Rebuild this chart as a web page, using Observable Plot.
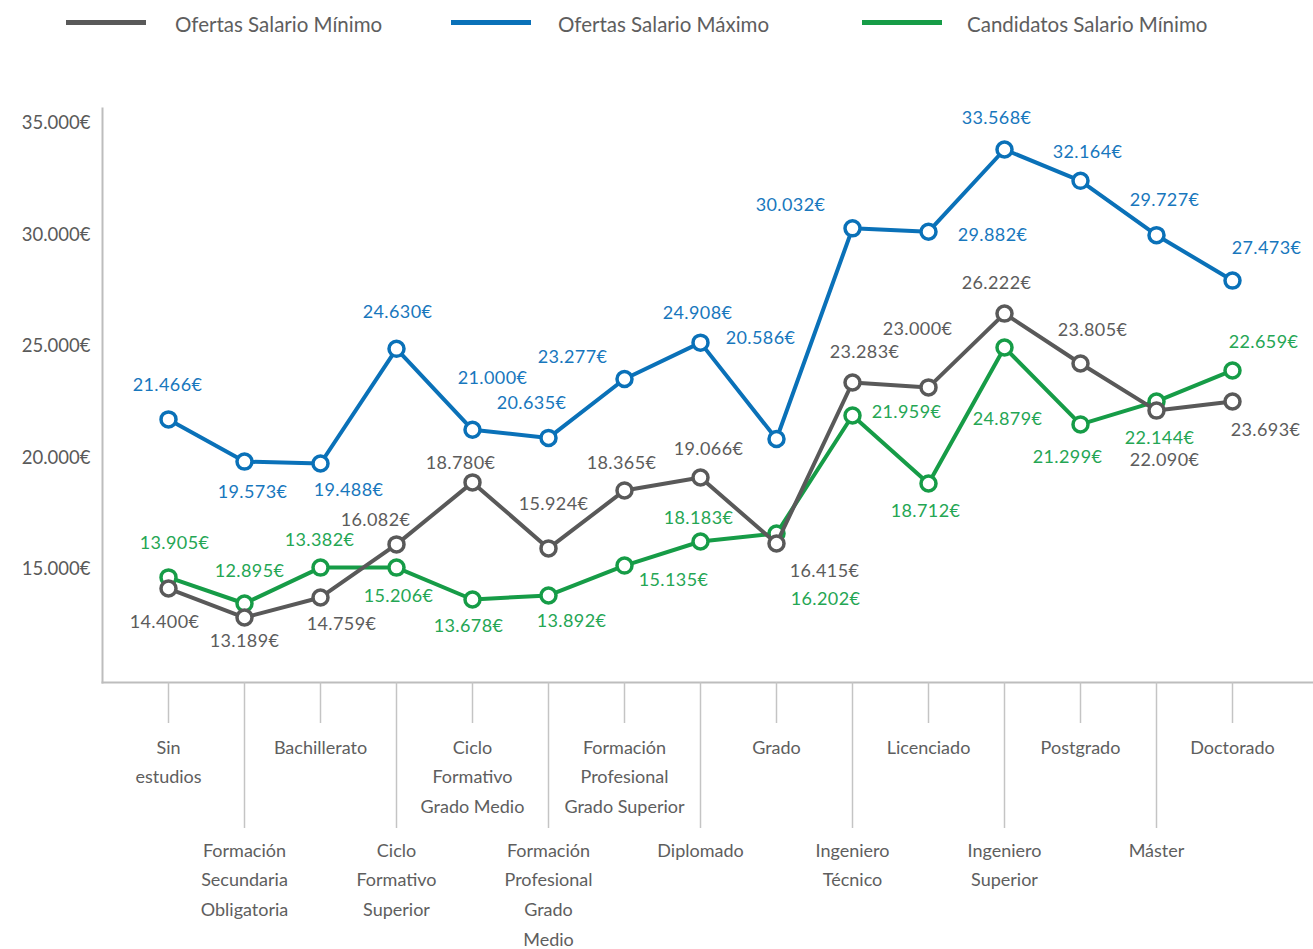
<!DOCTYPE html>
<html>
<head>
<meta charset="utf-8">
<script src="https://cdn.jsdelivr.net/npm/d3@7"></script>
<script src="https://cdn.jsdelivr.net/npm/@observablehq/plot@0.6"></script>
<style>
  html, body { margin: 0; padding: 0; background: #fff; }
  body { width: 1313px; height: 949px; overflow: hidden; font-family: Lato, "Open Sans", sans-serif; }
  #legend { position: relative; height: 50px; font-size: 20.5px; color: #5e5e5e; }
  #legend .sw { position: absolute; top: 20px; width: 80px; height: 5px; }
  #legend .lb { position: absolute; top: 12px; line-height: 24px; white-space: nowrap; }
  #chart svg { display: block; }
  #chart .vlabel text, #chart text.vlabel { letter-spacing: 0.4px; }
</style>
</head>
<body>
<div id="legend"></div>
<div id="chart"></div>
<script>
// ---- data ----
const categories = ["Sin estudios", "Formación Secundaria Obligatoria", "Bachillerato", "Ciclo Formativo Superior", "Ciclo Formativo Grado Medio", "Formación Profesional Grado Medio", "Formación Profesional Grado Superior", "Diplomado", "Grado", "Ingeniero Técnico", "Licenciado", "Ingeniero Superior", "Postgrado", "Máster", "Doctorado"];
const tickLabels = ["Sin\nestudios", "Formación\nSecundaria\nObligatoria", "Bachillerato", "Ciclo\nFormativo\nSuperior", "Ciclo\nFormativo\nGrado Medio", "Formación\nProfesional\nGrado\nMedio", "Formación\nProfesional\nGrado Superior", "Diplomado", "Grado", "Ingeniero\nTécnico", "Licenciado", "Ingeniero\nSuperior", "Postgrado", "Máster", "Doctorado"];
const seriesNames = ["Ofertas Salario Mínimo", "Ofertas Salario Máximo", "Candidatos Salario Mínimo"];

const ofertasMin = [13880, 12580, 13480, 15860, 18640, 15680, 18280, 18860, 15900, 23120, 22900, 26210, 23970, 21860, 22270];
const ofertasMax = [21466, 19573, 19488, 24630, 21000, 20635, 23277, 24908, 20586, 30032, 29882, 33568, 32164, 29727, 27690];
const candidatosMin = [14380, 13210, 14820, 14820, 13390, 13570, 14910, 15990, 16350, 21640, 18590, 24690, 21240, 22270, 23660];

const ofertasMinLabels = ["14.400€", "13.189€", "14.759€", "16.082€", "18.780€", "15.924€", "18.365€", "19.066€", "16.415€", "23.283€", "23.000€", "26.222€", "23.805€", "22.090€", "23.693€"];
const ofertasMaxLabels = ["21.466€", "19.573€", "19.488€", "24.630€", "21.000€", "20.635€", "23.277€", "24.908€", "20.586€", "30.032€", "29.882€", "33.568€", "32.164€", "29.727€", "27.473€"];
const candidatosMinLabels = ["13.905€", "12.895€", "13.382€", "15.206€", "13.678€", "13.892€", "15.135€", "18.183€", "16.202€", "21.959€", "18.712€", "24.879€", "21.299€", "22.144€", "22.659€"];

const yTicks = [15000, 20000, 25000, 30000, 35000];

// ---- styles (label offsets in px, colours) ----
const colors = {gray: "#595959", blue: "#0a71b8", green: "#169c47"};
const labelColors = {gray: "#5c5c5c", blue: "#1877bd", green: "#25a654"};
const ofertasMaxOffsets = [[-1,-34],[8,31],[28,27],[1,-37],[20,-52],[-17,-35],[-52,-22],[-3,-29],[-16,-101],[-62,-23],[64,4],[-8,-31],[7,-29],[8,-35],[34,-32]];
const ofertasMinOffsets = [[-4,34],[0,24],[21,27],[-21,-24],[-12,-19],[5,-44],[-3,-27],[8,-28],[48,28],[12,-30],[-11,-58],[-8,-30],[12,-33],[8,50],[33,29]];
const candidatosMinOffsets = [[6,-34],[5,-32],[-1,-27],[2,29],[-4,27],[23,26],[49,15],[-2,-23],[49,66],[54,-3],[-3,28],[3,72],[-13,33],[3,37],[31,-28]];

// ---- legend ----
const legendItems = [
  {name: seriesNames[0], color: colors.gray, sw: 66, tx: 175},
  {name: seriesNames[1], color: colors.blue, sw: 451, tx: 558},
  {name: seriesNames[2], color: colors.green, sw: 862, tx: 967}
];
const legend = document.getElementById("legend");
for (const it of legendItems) {
  const s = document.createElement("div");
  s.className = "sw"; s.style.left = it.sw + "px"; s.style.background = it.color;
  const t = document.createElement("div");
  t.className = "lb"; t.style.left = it.tx + "px"; t.textContent = it.name;
  legend.appendChild(s); legend.appendChild(t);
}

// ---- chart ----
const fmt = d => d3.format(",")(d).replace(/,/g, ".") + "€";
const idx = d3.range(categories.length);
const evenCats = categories.filter((_, i) => i % 2 === 0);
const oddCats = categories.filter((_, i) => i % 2 === 1);
const tickText = d => tickLabels[categories.indexOf(d)];

function seriesMarks(values, color) {
  return [
    Plot.line(idx, {x: i => categories[i], y: i => values[i], stroke: color, strokeWidth: 4, strokeLinejoin: "round"}),
    Plot.dot(idx, {x: i => categories[i], y: i => values[i], r: 7.5, fill: "white", stroke: color, strokeWidth: 3.5})
  ];
}
function labelMarks(values, labels, offsets, color) {
  return idx.map(i => Plot.text([i], {
    x: d => categories[d], y: d => values[d], text: d => labels[d],
    dx: offsets[i][0], dy: offsets[i][1], fill: color, fontSize: 18, textAnchor: "middle", className: "vlabel"
  }));
}

const chart = Plot.plot({
  width: 1313,
  height: 899,
  marginTop: 58,
  marginBottom: 267,
  marginLeft: 102,
  marginRight: 0,
  style: {fontFamily: "Lato, 'Open Sans', sans-serif", fontSize: "17px", color: "#5a5a5a", background: "white"},
  x: {type: "point", domain: categories, range: [163, 1237], padding: 0},
  y: {domain: [9667, 35407]},
  marks: [
    Plot.frame({anchor: "left", stroke: "#bdbdbd", strokeWidth: 2}),
    Plot.frame({anchor: "bottom", stroke: "#bdbdbd", strokeWidth: 2}),
    Plot.axisY(yTicks, {tickSize: 0, tickPadding: 12, tickFormat: fmt, fontSize: 18.5, fill: "#5a5a5a", dy: 6, label: null}),
    Plot.axisX(evenCats, {tickSize: 41, tickPadding: 9, tickFormat: tickText, fontSize: 18, lineHeight: 1.65, stroke: "#c4c4c4", strokeWidth: 1.5, fill: "#5e5e5e", label: null}),
    Plot.axisX(oddCats, {tickSize: 146, tickPadding: 7, tickFormat: tickText, fontSize: 18, lineHeight: 1.65, stroke: "#c4c4c4", strokeWidth: 1.5, fill: "#5e5e5e", label: null}),
    ...seriesMarks(ofertasMax, colors.blue),
    ...seriesMarks(candidatosMin, colors.green),
    ...seriesMarks(ofertasMin, colors.gray),
    ...labelMarks(ofertasMax, ofertasMaxLabels, ofertasMaxOffsets, labelColors.blue),
    ...labelMarks(ofertasMin, ofertasMinLabels, ofertasMinOffsets, labelColors.gray),
    ...labelMarks(candidatosMin, candidatosMinLabels, candidatosMinOffsets, labelColors.green)
  ]
});
document.getElementById("chart").appendChild(chart);
</script>
</body>
</html>
